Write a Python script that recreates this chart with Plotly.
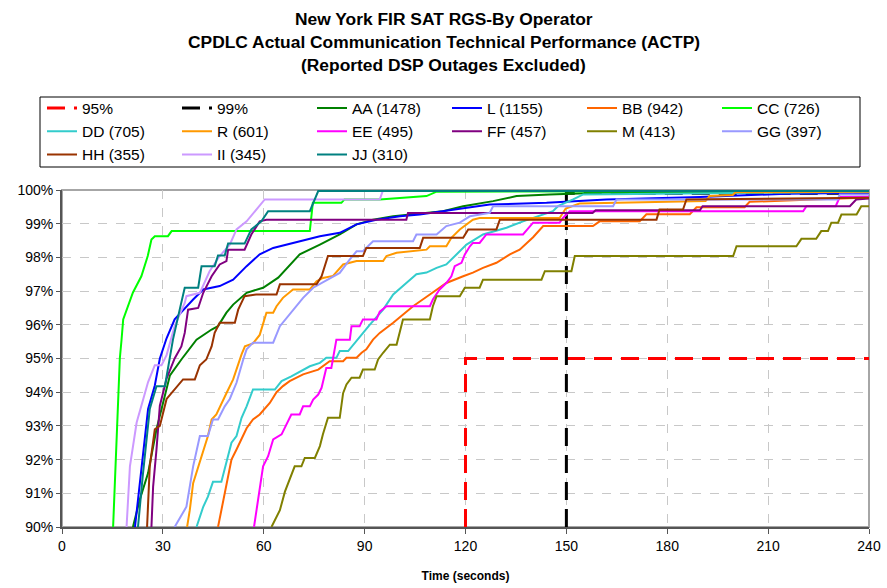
import plotly.graph_objects as go

# ---------------- data ----------------
TITLE_LINES = [
    "New York FIR SAT RGS-By Operator",
    "CPDLC Actual Communication Technical Performance (ACTP)",
    "(Reported DSP Outages Excluded)",
]
X_TITLE = "Time (seconds)"
X_TICKS = [0, 30, 60, 90, 120, 150, 180, 210, 240]
Y_TICKS = [90, 91, 92, 93, 94, 95, 96, 97, 98, 99, 100]
Y_TICK_LABELS = ["90%", "91%", "92%", "93%", "94%", "95%", "96%", "97%", "98%", "99%", "100%"]

REF95_x = [120, 120, 240]
REF95_y = [90, 95, 95]
REF99_x = [150, 150, 240]
REF99_y = [90, 99.9, 99.9]

AA_x = [21.1, 23.1, 25.6, 28.1, 29.6, 32.1, 35.5, 40.0, 44.5, 46.4, 48.9, 50.9, 54.9, 59.8, 64.3, 70.7,
        76.7, 82.6, 87.6, 92.5, 98.5, 113.3, 119.3, 128.2, 135.2, 145.0, 160.0, 240]
AA_y = [90.0, 90.8, 91.6, 92.9, 93.5, 94.5, 94.97, 95.56, 95.86, 95.96, 96.36, 96.6, 96.95, 97.1, 97.4, 98.09,
        98.38, 98.68, 98.98, 99.12, 99.22, 99.37, 99.52, 99.67, 99.82, 99.87, 99.92, 99.97]

L_x = [21.7, 23.1, 24.1, 25.6, 27.6, 29.1, 31.1, 33.5, 39.0, 42.0, 46.9, 50.9, 54.9, 58.8, 62.8, 64.8, 70.7,
       76.7, 82.6, 87.6, 93.5, 100.5, 106.4, 120.3, 127.2, 144.1, 161.9, 189.7, 215.4, 240]
L_y = [90.0, 91.3, 92.3, 93.5, 94.2, 95.0, 95.6, 96.16, 96.75, 97.05, 97.15, 97.34, 97.74, 98.09, 98.28, 98.33,
       98.48, 98.63, 98.73, 98.98, 99.12, 99.22, 99.27, 99.47, 99.57, 99.62, 99.72, 99.79, 99.89, 99.92]

BB_x = [46.4, 47.9, 48.9, 50.4, 51.9, 54.9, 56.8, 58.8, 61.8, 63.8, 65.7, 67.7, 71.7, 76.2, 79.6, 83.6, 84.6,
        87.6, 89.1, 90.5, 92.5, 94.5, 98.5, 104.4, 109.4, 114.3, 119.3, 122.2, 125.2, 129.2, 133.2, 136.1, 140.1,
        143.1, 157.9, 159.9, 171.8, 173.8, 186.7, 188.7, 203.0, 204.5, 219.4, 240]
BB_y = [90.0, 90.72, 91.3, 92.0, 92.3, 92.93, 93.19, 93.34, 93.68, 94.0, 94.18, 94.33, 94.53, 94.67, 94.92, 94.92,
        95.02, 95.02, 95.17, 95.27, 95.56, 95.76, 96.06, 96.55, 96.9, 97.24, 97.44, 97.55, 97.69, 97.84, 98.09,
        98.23, 98.6, 98.93, 98.93, 99.07, 99.07, 99.28, 99.28, 99.49, 99.49, 99.65, 99.7, 99.78]

CC_x = [15.2, 16.2, 17.2, 17.7, 18.2, 21.1, 23.6, 25.5, 26.6, 27.6, 31.5, 32.6, 73.7, 74.6, 83.1, 84.0, 94.5,
        108.4, 111.4, 240]
CC_y = [90.0, 92.6, 95.0, 95.55, 96.16, 96.96, 97.44, 98.04, 98.53, 98.63, 98.63, 98.78, 98.78, 99.62, 99.62,
        99.72, 99.72, 99.82, 99.95, 99.97]

DD_x = [40.0, 42.0, 43.4, 44.9, 47.4, 48.9, 50.4, 51.9, 53.4, 54.9, 56.8, 63.3, 65.3, 68.2, 73.7, 76.7, 78.6,
        81.6, 82.6, 85.1, 86.6, 88.5, 91.5, 95.5, 98.5, 102.4, 105.4, 108.4, 111.4, 114.3, 118.3, 120.3, 125.2,
        132.2, 137.1, 146.0, 147.5, 150.0, 152.0, 155.0, 240]
DD_y = [90.0, 90.6, 90.9, 91.34, 91.34, 91.9, 92.5, 92.7, 93.24, 93.58, 94.08, 94.08, 94.33, 94.47, 94.77, 94.87,
        95.02, 95.02, 95.22, 95.22, 95.41, 95.65, 96.0, 96.45, 96.9, 97.24, 97.5, 97.55, 97.69, 97.79, 98.18, 98.38,
        98.68, 98.88, 99.07, 99.37, 99.52, 99.62, 99.72, 99.87, 99.95]

R_x = [37.2, 38.0, 39.0, 42.0, 43.4, 44.5, 45.9, 48.9, 50.9, 53.4, 54.4, 56.8, 58.8, 60.8, 62.8, 63.8, 65.7,
       68.7, 73.7, 75.7, 77.6, 80.6, 83.6, 87.6, 95.5, 96.5, 99.5, 108.4, 109.4, 114.3, 115.8, 118.3, 122.2, 124.2,
       148.0, 149.8, 153.9, 191.4, 192.6, 199.5, 200.3, 240]
R_y = [90.0, 90.5, 91.3, 92.3, 92.7, 93.19, 93.34, 93.97, 94.38, 95.12, 95.36, 95.45, 95.7, 96.36, 96.36, 96.55,
       96.8, 97.05, 97.05, 97.29, 97.39, 97.45, 97.79, 97.89, 97.89, 98.04, 98.14, 98.23, 98.33, 98.33, 98.58,
       98.83, 99.12, 99.17, 99.17, 99.45, 99.6, 99.67, 99.82, 99.85, 99.93, 99.95]

EE_x = [57.1, 58.3, 59.8, 61.3, 62.8, 65.3, 68.2, 70.7, 71.7, 73.7, 74.7, 76.2, 77.2, 78.6, 80.1, 81.6, 85.6,
        86.1, 88.5, 89.5, 93.5, 94.5, 96.5, 109.4, 110.3, 112.3, 114.3, 115.8, 116.8, 118.8, 119.8, 121.3, 122.2,
        124.2, 126.2, 137.1, 139.1, 140.1, 148.0, 149.0, 151.0, 220.4, 221.4, 230.1, 231.3, 240]
EE_y = [90.0, 90.8, 91.8, 92.1, 92.6, 92.75, 93.34, 93.34, 93.58, 93.58, 93.78, 93.93, 94.13, 94.72, 94.72, 95.56,
        95.56, 95.96, 95.96, 96.16, 96.16, 96.39, 96.55, 96.55, 96.75, 97.05, 97.24, 97.44, 97.74, 97.84, 98.09,
        98.33, 98.43, 98.43, 98.68, 98.68, 98.93, 99.03, 99.03, 99.17, 99.37, 99.37, 99.52, 99.52, 99.79, 99.8]

FF_x = [26.6, 27.1, 28.1, 29.1, 31.1, 33.5, 35.5, 36.5, 37.5, 40.5, 42.0, 44.5, 46.9, 48.9, 49.4, 54.3, 56.3,
        58.8, 60.8, 102.4, 102.9, 157.8, 158.7, 189.7, 190.5, 234.3, 236.2, 240]
FF_y = [90.0, 91.2, 92.3, 93.6, 94.4, 95.0, 95.36, 95.76, 96.45, 96.5, 96.95, 97.44, 97.79, 97.89, 98.23, 98.23,
        98.68, 99.07, 99.12, 99.12, 99.32, 99.32, 99.4, 99.4, 99.52, 99.52, 99.72, 99.75]

M_x = [62.3, 64.8, 66.3, 67.2, 69.2, 71.2, 72.2, 75.2, 76.7, 77.6, 79.1, 82.6, 83.6, 84.6, 86.1, 88.5, 89.5,
       93.0, 94.0, 95.5, 97.5, 99.5, 101.4, 109.4, 110.3, 111.4, 118.3, 119.8, 124.2, 125.2, 142.6, 143.6, 151.5,
       152.5, 199.6, 200.6, 218.4, 219.9, 224.3, 225.8, 227.8, 228.8, 230.8, 231.8, 236.3, 237.7, 240]
M_y = [90.0, 90.5, 91.05, 91.3, 91.8, 91.8, 92.05, 92.05, 92.4, 92.75, 93.24, 93.24, 93.97, 94.23, 94.43, 94.43,
       94.67, 94.67, 94.97, 95.17, 95.41, 95.41, 96.16, 96.16, 96.55, 96.85, 96.85, 97.1, 97.1, 97.34, 97.34,
       97.59, 97.59, 98.04, 98.04, 98.33, 98.33, 98.55, 98.55, 98.78, 98.78, 99.03, 99.03, 99.27, 99.27, 99.52,
       99.52]

GG_x = [33.5, 37.0, 39.0, 41.0, 43.4, 44.9, 46.4, 48.4, 49.9, 51.9, 53.9, 54.9, 56.8, 62.8, 64.8, 67.7, 69.7,
        71.7, 74.7, 82.6, 85.6, 87.6, 89.5, 92.5, 104.4, 105.4, 111.4, 114.3, 118.3, 121.3, 127.2, 128.2, 163.9,
        164.9, 230.7, 231.3, 240]
GG_y = [90.0, 90.6, 91.8, 92.7, 92.7, 93.19, 93.19, 93.58, 93.8, 94.28, 94.97, 95.27, 95.47, 95.47, 95.96, 96.31,
        96.55, 96.8, 97.1, 97.54, 97.94, 98.18, 98.18, 98.48, 98.48, 98.68, 98.68, 98.93, 99.03, 99.22, 99.32,
        99.52, 99.52, 99.72, 99.72, 99.87, 99.87]

HH_x = [25.3, 26.1, 27.6, 29.1, 31.1, 33.5, 36.0, 39.5, 41.0, 42.9, 44.5, 45.4, 46.9, 51.4, 52.4, 54.3, 57.8,
        63.8, 64.8, 75.7, 77.2, 79.1, 89.5, 90.5, 106.4, 107.4, 119.3, 120.8, 129.2, 130.2, 176.8, 177.7, 184.7,
        185.7, 240]
HH_y = [90.0, 91.8, 92.9, 93.0, 93.8, 94.1, 94.38, 94.38, 94.8, 94.97, 95.36, 95.76, 96.06, 96.06, 96.45, 96.85,
        96.9, 96.9, 97.2, 97.2, 97.44, 98.04, 98.04, 98.28, 98.28, 98.58, 98.58, 98.83, 98.83, 99.12, 99.12, 99.42,
        99.42, 99.72, 99.77]

II_x = [19.2, 20.2, 22.2, 23.7, 25.6, 27.6, 29.6, 31.1, 33.5, 36.5, 37.0, 41.0, 43.9, 46.9, 49.9, 51.9, 54.9,
        57.8, 60.3, 94.5, 95.4, 240]
II_y = [90.0, 91.8, 93.1, 93.6, 94.3, 94.8, 94.8, 95.1, 95.96, 96.65, 96.85, 96.95, 97.59, 98.04, 98.38, 98.83,
        99.07, 99.42, 99.72, 99.72, 99.97, 99.97]

JJ_x = [22.6, 24.0, 26.1, 28.1, 30.6, 33.0, 35.0, 36.5, 40.5, 41.5, 45.4, 46.4, 48.4, 49.4, 54.3, 56.3, 59.3,
        61.3, 73.7, 76.2, 240]
JJ_y = [90.0, 91.5, 93.5, 94.18, 94.18, 95.56, 96.45, 97.1, 97.1, 97.74, 97.74, 98.06, 98.06, 98.41, 98.41, 98.83,
        99.07, 99.37, 99.37, 99.97, 99.97]

SERIES_NAMES = ["AA (1478)", "L (1155)", "BB (942)", "CC (726)", "DD (705)", "R (601)", "EE (495)",
                "FF (457)", "M (413)", "GG (397)", "HH (355)", "II (345)", "JJ (310)"]
SERIES_COLORS = ["#008000", "#0000FF", "#FF6600", "#00FF00", "#33CCCC", "#FF9900", "#FF00FF",
                 "#800080", "#808000", "#9999FF", "#993300", "#CC99FF", "#008080"]
SERIES_X = [AA_x, L_x, BB_x, CC_x, DD_x, R_x, EE_x, FF_x, M_x, GG_x, HH_x, II_x, JJ_x]
SERIES_Y = [AA_y, L_y, BB_y, CC_y, DD_y, R_y, EE_y, FF_y, M_y, GG_y, HH_y, II_y, JJ_y]

# ---------------- figure ----------------
FONT = "Arial, Liberation Sans, sans-serif"
fig = go.Figure()

fig.add_trace(go.Scatter(x=REF95_x, y=REF95_y, mode="lines", name="95%",
                         line=dict(color="#FF0000", width=3, dash="18px,9px")))
fig.add_trace(go.Scatter(x=REF99_x, y=REF99_y, mode="lines", name="99%",
                         line=dict(color="#000000", width=3, dash="18px,9px")))
for name, xs, ys, col in zip(SERIES_NAMES, SERIES_X, SERIES_Y, SERIES_COLORS):
    fig.add_trace(go.Scatter(x=xs, y=ys, mode="lines", name=name,
                             line=dict(color=col, width=2)))

W, H = 887, 588
plot_left, plot_right = 62, 869
plot_top, plot_bottom = 190, 527
pw, ph = plot_right - plot_left, plot_bottom - plot_top


def px_x(px):
    return (px - plot_left) / pw


def px_y(py):
    return (plot_bottom - py) / ph


title_y = [19, 42, 65]  # pixel rows of the three title lines
annotations = []
for txt, py in zip(TITLE_LINES, title_y):
    annotations.append(dict(text="<b>%s</b>" % txt, x=px_x(W / 2), xref="paper",
                            y=px_y(py), yref="paper",
                            showarrow=False, xanchor="center", yanchor="middle",
                            font=dict(family=FONT, size=17.4, color="#000000")))

fig.update_layout(
    width=W, height=H,
    margin=dict(l=plot_left, r=W - plot_right, t=plot_top, b=H - plot_bottom, autoexpand=False),
    paper_bgcolor="white", plot_bgcolor="white",
    font=dict(family=FONT, size=14, color="#000000"),
    showlegend=True,
    legend=dict(orientation="h", x=px_x(42), xanchor="left", y=px_y(91.5), yanchor="top",
                borderwidth=0, bgcolor="rgba(0,0,0,0)",
                font=dict(family=FONT, size=15.5), entrywidth=90, entrywidthmode="pixels",
                traceorder="normal"),
    annotations=annotations,
    xaxis=dict(range=[0, 240], tickvals=X_TICKS, ticks="outside", ticklen=5, tickcolor="#555555",
               showgrid=True, gridcolor="#C8C8C8", griddash="dash", gridwidth=1,
               zeroline=False, showline=True, linecolor="#555555", linewidth=2, automargin=False,
               title=dict(text="<b>%s</b>" % X_TITLE, font=dict(family=FONT, size=12), standoff=19),
               tickfont=dict(family=FONT, size=14)),
    yaxis=dict(range=[90, 100], tickvals=Y_TICKS, ticktext=Y_TICK_LABELS, ticks="outside", ticklen=4,
               tickcolor="#555555", showgrid=True, gridcolor="#C8C8C8", griddash="dash", gridwidth=1,
               zeroline=False, showline=True, linecolor="#555555", linewidth=2, automargin=False,
               tickfont=dict(family=FONT, size=14)),
    shapes=[
        dict(type="rect", xref="paper", yref="paper", x0=0, x1=1, y0=0, y1=1,
             line=dict(color="#A6A6A6", width=2), layer="below"),
        dict(type="rect", xref="paper", yref="paper", x0=px_x(40), x1=px_x(860), y0=px_y(167), y1=px_y(97),
             line=dict(color="#000000", width=1), fillcolor="rgba(0,0,0,0)", layer="above"),
    ],
)

fig.write_html("out.html", config={"displayModeBar": False},
               post_script="document.body.style.margin='0px';document.body.style.overflow='hidden';")
